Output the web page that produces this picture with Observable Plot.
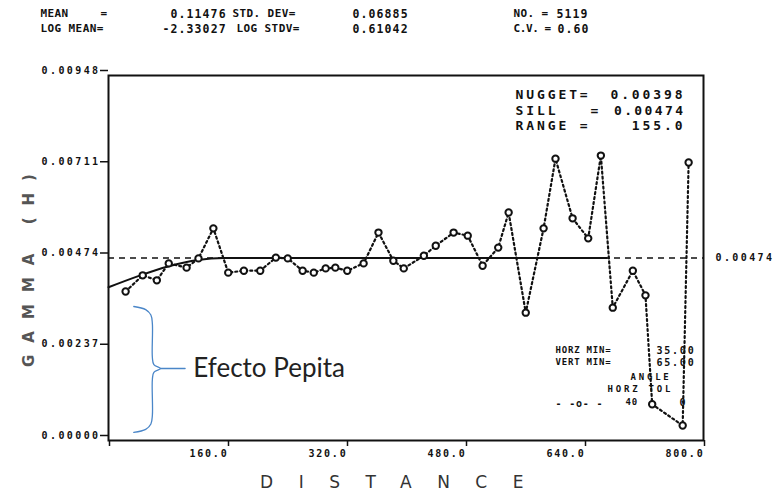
<!DOCTYPE html>
<html>
<head>
<meta charset="utf-8">
<script src="https://cdn.jsdelivr.net/npm/d3@7"></script>
<script src="https://cdn.jsdelivr.net/npm/@observablehq/plot@0.6"></script>
<style>
  html, body { margin: 0; padding: 0; background: #fff; }
  #chart svg { display: block; }
</style>
</head>
<body>
<div id="chart"></div>
<script>
// ---- data ----
const distance = [23, 46, 65, 81, 105, 121, 141, 161, 182, 204, 225, 241, 261, 276, 292, 305, 321, 343, 363, 383, 397, 424, 440, 464, 483, 503, 524, 538, 561, 585, 601, 624, 645, 662, 678, 705, 722, 731, 772, 780];
const gamma = [0.00387, 0.00429, 0.00416, 0.00460, 0.00449, 0.00473, 0.00551, 0.00436, 0.00441, 0.00441, 0.00475, 0.00473, 0.00441, 0.00436, 0.00447, 0.00449, 0.00441, 0.00460, 0.00540, 0.00467, 0.00447, 0.00480, 0.00506, 0.00540, 0.00532, 0.00454, 0.00501, 0.00592, 0.00332, 0.00551, 0.00732, 0.00577, 0.00525, 0.00740, 0.00345, 0.00441, 0.00377, 0.00094, 0.00039, 0.00722];
const modelDist = [0, 40, 80, 120, 155, 670];
const modelGamma = [0.00398, 0.00427, 0.00452, 0.00469, 0.00474, 0.00474];
const sill = 0.00474;
const yTicks = [0, 0.00237, 0.00474, 0.00711, 0.00948];
const xTicks = [0, 160, 320, 480, 640, 800];
const headerLabels1 = ["MEAN", "=", "STD. DEV=", "NO. ="];
const headerValues1 = ["0.11476", "0.06885", "5119"];
const headerLabels2 = ["LOG MEAN=", "LOG STDV=", "C.V. ="];
const headerValues2 = ["-2.33027", "0.61042", "0.60"];
const modelLabels = ["NUGGET=", "SILL   =", "RANGE ="];
const modelValues = ["0.00398", "0.00474", "155.0"];
const minLabels = ["HORZ MIN=", "VERT MIN="];
const minValues = ["35.00", "65.00"];
const annotation = "Efecto Pepita";

// ---- build ----
const points = distance.map((d, i) => ({d, g: gamma[i]}));
const model = modelDist.map((d, i) => ({d, g: modelGamma[i]}));

const W = 784, H = 495, ML = 108, MT = 75, MR = 81, MB = 55;
const mono = "DejaVu Sans Mono";

function note(str, px, py, opts = {}) {
  return Plot.text([str], {
    text: d => d, frameAnchor: "top-left", dx: px - ML, dy: py - MT,
    textAnchor: "start", fontFamily: mono, fontWeight: "bold", fontSize: 11.5,
    fill: "#111", ...opts
  });
}

const hl1x = [40, 100, 232, 513];
const hv1x = [170, 352, 556];
const hl2x = [40, 236, 513];
const hv2x = [162, 352, 557];

// brace annotation geometry (in data space, around the nugget segment)
const bx0 = 34, bx1 = 50, bx2 = 57, bx3 = 59, bx4 = 61, bTip = 70;
const bTop = 0.00348, bMid = 0.00187, bBot = 0.00021;
const brace = [
  [bx0, bTop], [bx1, bTop - 0.00008], [bx2, bTop - 0.00022], [bx3, bTop - 0.00045],
  [bx3, bMid + 0.00028], [bx4, bMid + 0.00010], [bTip, bMid], [bx4, bMid - 0.00010],
  [bx3, bMid - 0.00028], [bx3, bBot + 0.00045], [bx2, bBot + 0.00022], [bx1, bBot + 0.00008], [bx0, bBot]
];
const pointer = [[bTip, bMid], [103, bMid]];

const chart = Plot.plot({
  width: W, height: H,
  marginLeft: ML, marginTop: MT, marginRight: MR, marginBottom: MB,
  style: {background: "#fff", color: "#111"},
  x: {domain: [0, 800]},
  y: {domain: [0, 0.00948]},
  marks: [
    Plot.ruleY([sill], {stroke: "#111", strokeWidth: 1.4, strokeDasharray: "6,5"}),
    Plot.line(model, {x: "d", y: "g", curve: "monotone-x", stroke: "#111", strokeWidth: 2}),
    Plot.line(points, {x: "d", y: "g", stroke: "#111", strokeWidth: 2.2, strokeDasharray: "2,3"}),
    Plot.dot(points, {x: "d", y: "g", r: 3.2, stroke: "#111", strokeWidth: 2, fill: "#fff"}),
    Plot.frame({stroke: "#111", strokeWidth: 2}),
    Plot.axisY({ticks: yTicks, tickSize: 8, tickPadding: 0, tickFormat: d => d.toFixed(5),
      dy: -5, fontSize: 10, fontWeight: "bold", fontFamily: mono, label: null, strokeWidth: 1.5}),
    Plot.axisX({ticks: xTicks, tickSize: 6, tickPadding: 3, tickFormat: d => d === 0 ? "" : d.toFixed(1),
      textAnchor: "end", dx: 1, fontSize: 10, fontWeight: "bold", fontFamily: mono, label: null, strokeWidth: 1.5}),
    // sill value at right
    Plot.text([sill], {x: 800, y: d => d, text: d => d.toFixed(5), dx: 12, textAnchor: "start",
      fontSize: 10, fontWeight: "bold", fontFamily: mono, fill: "#111"}),
    // header
    ...headerLabels1.map((s, i) => note(s, hl1x[i], 9, {fontSize: 11})),
    ...headerValues1.map((s, i) => note(s, hv1x[i], 9)),
    ...headerLabels2.map((s, i) => note(s, hl2x[i], 24, {fontSize: 11})),
    ...headerValues2.map((s, i) => note(s, hv2x[i], 24)),
    // model box
    ...modelLabels.map((s, i) => note(s, 515, 89.5 + i * 15.5, {fontSize: 13})),
    ...modelValues.map((s, i) => note(s, 685, 89.5 + i * 15.5, {fontSize: 13, textAnchor: "end"})),
    // search legend
    ...minLabels.map((s, i) => note(s, 555, 346 + i * 12, {fontSize: 9})),
    ...minValues.map((s, i) => note(s, 695, 346 + i * 12, {fontSize: 10, textAnchor: "end"})),
    note("ANGLE", 630, 373, {fontSize: 9}),
    note("HORZ TOL", 607, 385, {fontSize: 9}),
    note("- -o- -", 555, 399, {fontSize: 10}),
    note("40", 625, 398, {fontSize: 9}),
    note("0", 679, 398, {fontSize: 10}),
    // axis titles
    note("GAMMA (H)", 23, 264, {rotate: -90, textAnchor: "middle", fontFamily: "DejaVu Sans", fontSize: 15, fill: "#555"}),
    note("DISTANCE", 404, 475, {textAnchor: "middle", fontFamily: "DejaVu Sans", fontWeight: "normal", fontSize: 17, fill: "#333"}),
    // annotation
    Plot.line(brace, {x: d => d[0], y: d => d[1], curve: "catmull-rom", stroke: "#4a86c8", strokeWidth: 1.3}),
    Plot.line(pointer, {x: d => d[0], y: d => d[1], stroke: "#4a86c8", strokeWidth: 1.3}),
    Plot.text([annotation], {x: 114, y: bMid, text: d => d, textAnchor: "start", fontFamily: "Lato",
      fontSize: 26, fill: "#222"})
  ]
});

document.getElementById("chart").appendChild(chart);

// letter spacing to imitate the pen-plotter lettering
const spacing = new Map();
[...headerLabels1, ...headerLabels2].forEach(s => spacing.set(s, 0.4));
spacing.set("C.V. =", -0.4);
[...headerValues1, ...headerValues2].forEach(s => spacing.set(s, 1.1));
[...modelLabels, ...modelValues].forEach(s => spacing.set(s, 2.9));
[...minLabels, "- -o- -", "40"].forEach(s => spacing.set(s, 0.8));
["ANGLE", "HORZ TOL"].forEach(s => spacing.set(s, 2.8));
[...minValues, "0"].forEach(s => spacing.set(s, 1.8));
yTicks.forEach(v => spacing.set(v.toFixed(5), 2.4));
spacing.set(sill.toFixed(5), 2.4);
xTicks.forEach(v => spacing.set(v.toFixed(1), 1.8));
spacing.set("GAMMA (H)", 12);
spacing.set("DISTANCE", 25.5);
d3.select(chart).selectAll("text").each(function() {
  const t = this.textContent;
  if (spacing.has(t)) this.style.letterSpacing = spacing.get(t) + "px";
});
</script>
</body>
</html>
